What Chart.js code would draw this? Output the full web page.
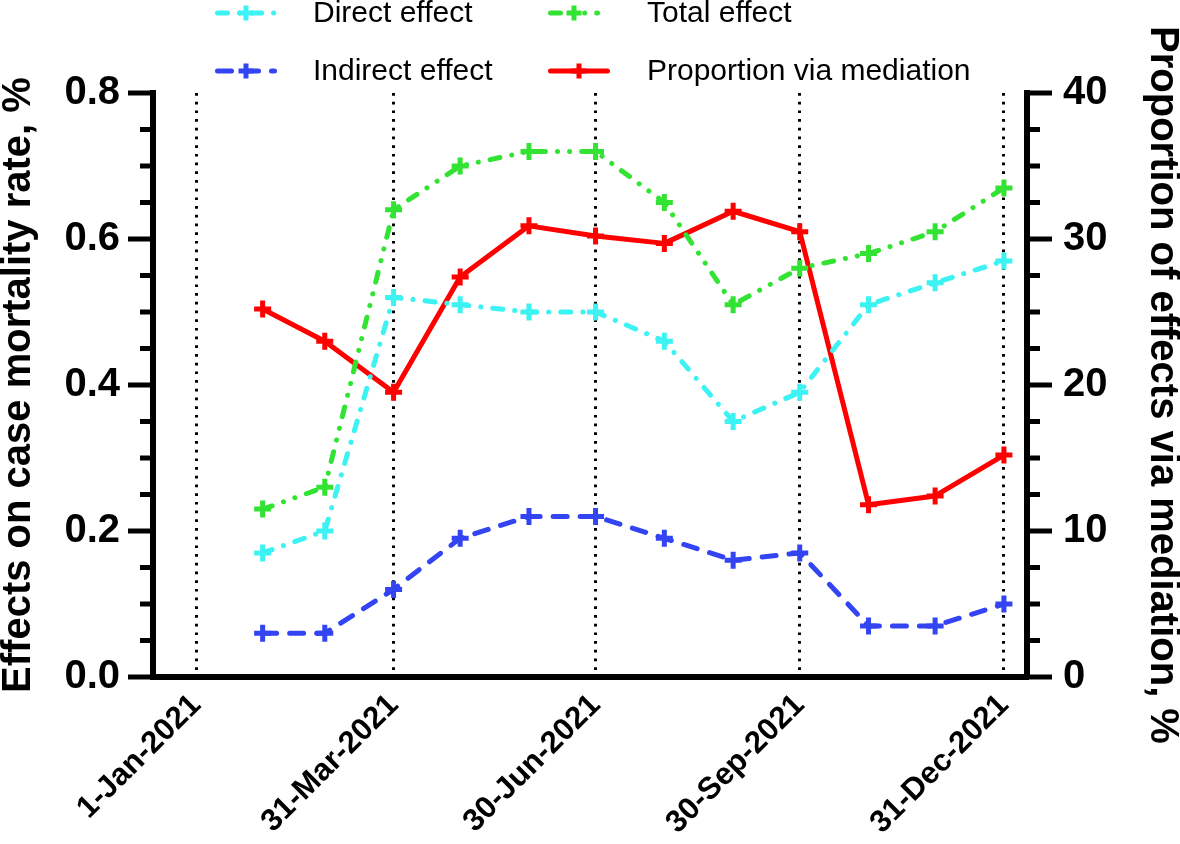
<!DOCTYPE html>
<html>
<head>
<meta charset="utf-8">
<script src="https://cdn.jsdelivr.net/npm/chart.js@4.4.1/dist/chart.umd.min.js"></script>
<style>
html,body{margin:0;padding:0;background:#fff;}
#wrap{width:1180px;height:844px;position:relative;}
</style>
</head>
<body>
<div id="wrap"><canvas id="c" width="1180" height="844"></canvas></div>
<script>
// ---- data ----
const monthEndDays = [30, 58, 89, 119, 150, 180, 211, 242, 272, 303, 333, 364]; // days since 1-Jan-2021
const directEffect   = [0.17, 0.20, 0.52, 0.51, 0.50, 0.50, 0.46, 0.35, 0.39, 0.51, 0.54, 0.57];
const indirectEffect = [0.06, 0.06, 0.12, 0.19, 0.22, 0.22, 0.19, 0.16, 0.17, 0.07, 0.07, 0.10];
const totalEffect    = [0.23, 0.26, 0.64, 0.70, 0.72, 0.72, 0.65, 0.51, 0.56, 0.58, 0.61, 0.67];
const proportionMed  = [25.2, 23.0, 19.5, 27.4, 30.9, 30.2, 29.7, 31.9, 30.5, 11.8, 12.4, 15.2];
const xTickDays   = [0, 89, 180, 272, 364];
const xTickLabels = ['1-Jan-2021', '31-Mar-2021', '30-Jun-2021', '30-Sep-2021', '31-Dec-2021'];
const seriesNames = ['Direct effect', 'Total effect', 'Indirect effect', 'Proportion via mediation'];
const leftTitle  = 'Effects on case mortality rate, %';
const rightTitle = 'Proportion of effects via mediation, %';

const FONT = '"Liberation Sans", Arial, Helvetica, sans-serif';
const C_CYAN = '#3cf2f2', C_GREEN = '#33e333', C_BLUE = '#3344f2', C_RED = '#ff0000';
const DASH_CYAN = [10, 12, 0.1, 12];
const DASH_GREEN = [10, 12, 0.1, 12, 0.1, 12];
const DASH_BLUE = [14, 13];

function pts(vals){ return vals.map((v,i)=>({x: monthEndDays[i], y: v})); }

function ds(label, vals, color, dash, axis, order){
  return {
    label, data: pts(vals), yAxisID: axis, order,
    borderColor: color, backgroundColor: color,
    borderWidth: 5, borderDash: dash, borderCapStyle: 'round', borderJoinStyle: 'round',
    tension: 0, fill: false,
    pointStyle: 'cross', pointRadius: 8.5, pointBorderWidth: 5,
    pointBorderColor: color, pointBackgroundColor: color, pointHoverRadius: 8.5
  };
}

const datasets = [
  ds(seriesNames[0], directEffect, C_CYAN, DASH_CYAN, 'y', 3),
  ds(seriesNames[1], totalEffect, C_GREEN, DASH_GREEN, 'y', 1),
  ds(seriesNames[2], indirectEffect, C_BLUE, DASH_BLUE, 'y', 2),
  ds(seriesNames[3], proportionMed, C_RED, [], 'y1', 4)
];

const decor = {
  id: 'decor',
  afterDraw(chart){
    const ctx = chart.ctx;
    const yl = chart.scales.y, yr = chart.scales.y1;
    ctx.save();
    ctx.strokeStyle = '#000'; ctx.lineWidth = 5; ctx.lineCap = 'butt'; ctx.setLineDash([]);
    // left axis major/minor tick marks
    for (let i = 0; i <= 16; i++) {
      const p = yl.getPixelForValue(i * 0.05);
      const len = (i % 4 === 0) ? 25 : 13;
      ctx.beginPath(); ctx.moveTo(yl.right, p); ctx.lineTo(yl.right - len, p); ctx.stroke();
    }
    // right axis major/minor tick marks
    for (let i = 0; i <= 16; i++) {
      const p = yr.getPixelForValue(i * 2.5);
      const len = (i % 4 === 0) ? 25 : 13;
      ctx.beginPath(); ctx.moveTo(yr.left, p); ctx.lineTo(yr.left + len, p); ctx.stroke();
    }
    // axis titles
    const ca = chart.chartArea;
    const cy = (ca.top + ca.bottom) / 2;
    ctx.fillStyle = '#000';
    ctx.font = 'bold 40px ' + FONT;
    ctx.textAlign = 'center'; ctx.textBaseline = 'middle';
    ctx.save(); ctx.translate(19, cy); ctx.rotate(-Math.PI/2); ctx.fillText(leftTitle, 0, 0); ctx.restore();
    ctx.save(); ctx.translate(1162, cy); ctx.rotate(Math.PI/2); ctx.fillText(rightTitle, 0, 0); ctx.restore();

    // legend (two columns)
    const slots = [
      {ds: 0, x0: 215, x1: 277, y: 13, tx: 313},
      {ds: 1, x0: 548, x1: 600, y: 13, tx: 647},
      {ds: 2, x0: 215, x1: 277, y: 71, tx: 313},
      {ds: 3, x0: 548, x1: 610, y: 71, tx: 647}
    ];
    slots.forEach(s => {
      const d = chart.data.datasets[s.ds];
      ctx.save();
      ctx.strokeStyle = d.borderColor; ctx.lineWidth = 5; ctx.lineCap = 'round';
      ctx.setLineDash(d.borderDash || []);
      ctx.beginPath(); ctx.moveTo(s.x0 + 2.5, s.y); ctx.lineTo(s.x1 - 2.5, s.y); ctx.stroke();
      ctx.setLineDash([]); ctx.lineCap = 'butt';
      const cx = (s.x0 + s.x1) / 2, r = 7.5;
      ctx.beginPath(); ctx.moveTo(cx - r, s.y); ctx.lineTo(cx + r, s.y);
      ctx.moveTo(cx, s.y - r); ctx.lineTo(cx, s.y + r); ctx.stroke();
      ctx.restore();
      ctx.fillStyle = '#000';
      ctx.font = '30px ' + FONT;
      ctx.textAlign = 'left'; ctx.textBaseline = 'middle';
      ctx.fillText(d.label, s.tx, s.y + 1);
    });
    ctx.restore();
  }
};

const tickFont = {family: FONT, size: 40, weight: 'bold'};

new Chart(document.getElementById('c'), {
  type: 'line',
  data: { datasets },
  options: {
    responsive: false,
    animation: false,
    events: [],
    layout: { padding: { top: 93, left: 0, right: 0, bottom: 0 } },
    plugins: { legend: { display: false }, tooltip: { enabled: false } },
    scales: {
      x: {
        type: 'linear', position: 'bottom', min: -19.4, max: 374.4,
        afterBuildTicks: s => { s.ticks = xTickDays.map(v => ({value: v})); },
        afterFit: s => { s.height = 167; },
        grid: { display: true, drawOnChartArea: true, drawTicks: false, color: '#000', lineWidth: 3 },
        border: { display: true, width: 6, color: '#000', dash: [2.7, 6] },
        ticks: {
          autoSkip: false, minRotation: 45, maxRotation: 45, padding: 10,
          font: {family: FONT, size: 31, weight: 'bold'}, color: '#000',
          callback: (v, i) => xTickLabels[i]
        }
      },
      y: {
        type: 'linear', position: 'left', min: 0, max: 0.8,
        afterFit: s => { s.width = 153; },
        grid: { display: false, drawTicks: false },
        border: { display: true, width: 6, color: '#000' },
        ticks: { stepSize: 0.2, padding: 33, font: tickFont, color: '#000', callback: v => v.toFixed(1) }
      },
      y1: {
        type: 'linear', position: 'right', min: 0, max: 40,
        afterFit: s => { s.width = 153; },
        grid: { display: false, drawTicks: false },
        border: { display: true, width: 6, color: '#000' },
        ticks: { stepSize: 10, padding: 36, font: tickFont, color: '#000', callback: v => String(v) }
      }
    }
  },
  plugins: [decor]
});
</script>
</body>
</html>
